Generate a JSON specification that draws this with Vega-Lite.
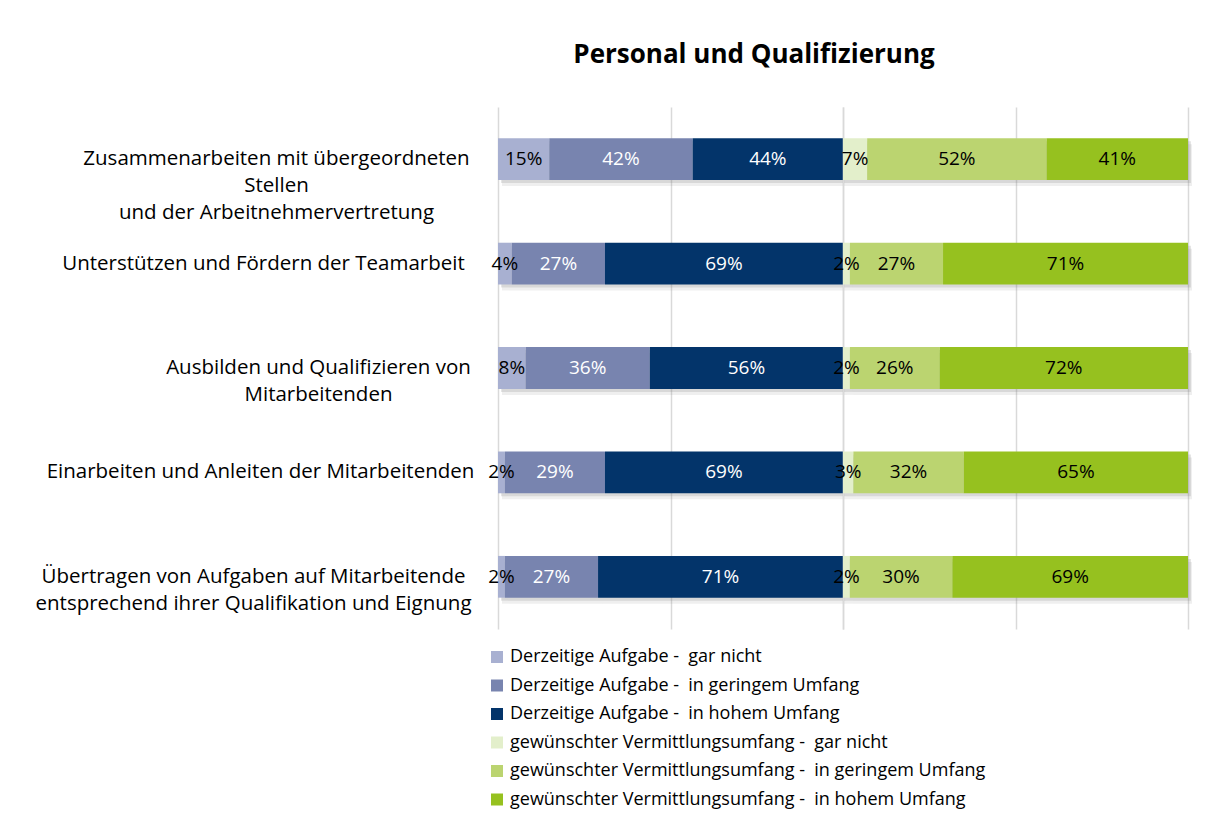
{
  "$schema": "https://vega.github.io/schema/vega-lite/v6.json",
  "padding": {"left": 0, "top": 42, "right": 0, "bottom": 0},
  "background": "white",
  "bounds": "flush",
  "title": {"text": "Personal und Qualifizierung", "fontSize": 26, "font": "Open Sans", "fontWeight": "bold", "color": "#000000", "anchor": "middle", "dx": 158, "offset": 39},
  "data": {"values": [
    {"item": "Zusammenarbeiten mit übergeordneten|Stellen|und der Arbeitnehmervertretung", "side": "D", "k": 0, "series": "Derzeitige Aufgabe -\u00a0 gar nicht", "value": 0.15},
    {"item": "Zusammenarbeiten mit übergeordneten|Stellen|und der Arbeitnehmervertretung", "side": "D", "k": 1, "series": "Derzeitige Aufgabe -\u00a0 in geringem Umfang", "value": 0.42},
    {"item": "Zusammenarbeiten mit übergeordneten|Stellen|und der Arbeitnehmervertretung", "side": "D", "k": 2, "series": "Derzeitige Aufgabe -\u00a0 in hohem Umfang", "value": 0.44},
    {"item": "Zusammenarbeiten mit übergeordneten|Stellen|und der Arbeitnehmervertretung", "side": "G", "k": 3, "series": "gewünschter Vermittlungsumfang -\u00a0 gar nicht", "value": 0.07},
    {"item": "Zusammenarbeiten mit übergeordneten|Stellen|und der Arbeitnehmervertretung", "side": "G", "k": 4, "series": "gewünschter Vermittlungsumfang -\u00a0 in geringem Umfang", "value": 0.52},
    {"item": "Zusammenarbeiten mit übergeordneten|Stellen|und der Arbeitnehmervertretung", "side": "G", "k": 5, "series": "gewünschter Vermittlungsumfang -\u00a0 in hohem Umfang", "value": 0.41},
    {"item": "Unterstützen und Fördern der Teamarbeit", "side": "D", "k": 0, "series": "Derzeitige Aufgabe -\u00a0 gar nicht", "value": 0.04},
    {"item": "Unterstützen und Fördern der Teamarbeit", "side": "D", "k": 1, "series": "Derzeitige Aufgabe -\u00a0 in geringem Umfang", "value": 0.27},
    {"item": "Unterstützen und Fördern der Teamarbeit", "side": "D", "k": 2, "series": "Derzeitige Aufgabe -\u00a0 in hohem Umfang", "value": 0.69},
    {"item": "Unterstützen und Fördern der Teamarbeit", "side": "G", "k": 3, "series": "gewünschter Vermittlungsumfang -\u00a0 gar nicht", "value": 0.02},
    {"item": "Unterstützen und Fördern der Teamarbeit", "side": "G", "k": 4, "series": "gewünschter Vermittlungsumfang -\u00a0 in geringem Umfang", "value": 0.27},
    {"item": "Unterstützen und Fördern der Teamarbeit", "side": "G", "k": 5, "series": "gewünschter Vermittlungsumfang -\u00a0 in hohem Umfang", "value": 0.71},
    {"item": "Ausbilden und Qualifizieren von|Mitarbeitenden", "side": "D", "k": 0, "series": "Derzeitige Aufgabe -\u00a0 gar nicht", "value": 0.08},
    {"item": "Ausbilden und Qualifizieren von|Mitarbeitenden", "side": "D", "k": 1, "series": "Derzeitige Aufgabe -\u00a0 in geringem Umfang", "value": 0.36},
    {"item": "Ausbilden und Qualifizieren von|Mitarbeitenden", "side": "D", "k": 2, "series": "Derzeitige Aufgabe -\u00a0 in hohem Umfang", "value": 0.56},
    {"item": "Ausbilden und Qualifizieren von|Mitarbeitenden", "side": "G", "k": 3, "series": "gewünschter Vermittlungsumfang -\u00a0 gar nicht", "value": 0.02},
    {"item": "Ausbilden und Qualifizieren von|Mitarbeitenden", "side": "G", "k": 4, "series": "gewünschter Vermittlungsumfang -\u00a0 in geringem Umfang", "value": 0.26},
    {"item": "Ausbilden und Qualifizieren von|Mitarbeitenden", "side": "G", "k": 5, "series": "gewünschter Vermittlungsumfang -\u00a0 in hohem Umfang", "value": 0.72},
    {"item": "Einarbeiten und Anleiten der Mitarbeitenden", "side": "D", "k": 0, "series": "Derzeitige Aufgabe -\u00a0 gar nicht", "value": 0.02},
    {"item": "Einarbeiten und Anleiten der Mitarbeitenden", "side": "D", "k": 1, "series": "Derzeitige Aufgabe -\u00a0 in geringem Umfang", "value": 0.29},
    {"item": "Einarbeiten und Anleiten der Mitarbeitenden", "side": "D", "k": 2, "series": "Derzeitige Aufgabe -\u00a0 in hohem Umfang", "value": 0.69},
    {"item": "Einarbeiten und Anleiten der Mitarbeitenden", "side": "G", "k": 3, "series": "gewünschter Vermittlungsumfang -\u00a0 gar nicht", "value": 0.03},
    {"item": "Einarbeiten und Anleiten der Mitarbeitenden", "side": "G", "k": 4, "series": "gewünschter Vermittlungsumfang -\u00a0 in geringem Umfang", "value": 0.32},
    {"item": "Einarbeiten und Anleiten der Mitarbeitenden", "side": "G", "k": 5, "series": "gewünschter Vermittlungsumfang -\u00a0 in hohem Umfang", "value": 0.65},
    {"item": "Übertragen von Aufgaben auf Mitarbeitende|entsprechend ihrer Qualifikation und Eignung", "side": "D", "k": 0, "series": "Derzeitige Aufgabe -\u00a0 gar nicht", "value": 0.02},
    {"item": "Übertragen von Aufgaben auf Mitarbeitende|entsprechend ihrer Qualifikation und Eignung", "side": "D", "k": 1, "series": "Derzeitige Aufgabe -\u00a0 in geringem Umfang", "value": 0.27},
    {"item": "Übertragen von Aufgaben auf Mitarbeitende|entsprechend ihrer Qualifikation und Eignung", "side": "D", "k": 2, "series": "Derzeitige Aufgabe -\u00a0 in hohem Umfang", "value": 0.71},
    {"item": "Übertragen von Aufgaben auf Mitarbeitende|entsprechend ihrer Qualifikation und Eignung", "side": "G", "k": 3, "series": "gewünschter Vermittlungsumfang -\u00a0 gar nicht", "value": 0.02},
    {"item": "Übertragen von Aufgaben auf Mitarbeitende|entsprechend ihrer Qualifikation und Eignung", "side": "G", "k": 4, "series": "gewünschter Vermittlungsumfang -\u00a0 in geringem Umfang", "value": 0.30},
    {"item": "Übertragen von Aufgaben auf Mitarbeitende|entsprechend ihrer Qualifikation und Eignung", "side": "G", "k": 5, "series": "gewünschter Vermittlungsumfang -\u00a0 in hohem Umfang", "value": 0.69}
  ]},
  "spacing": 0,
  "hconcat": [
    {
      "width": 345,
      "height": 522,
      "transform": [{"filter": "datum.side == 'D'"}],
      "encoding": {
        "y": {"field": "item", "type": "nominal", "sort": null, "title": null,
          "scale": {"paddingInner": 0.6, "paddingOuter": 0.3},
          "axis": {"domain": false, "ticks": false, "labelAlign": "center", "labelBaseline": "middle",
            "labelPadding": {"expr": "indexof(datum.value,'Zusammen')==0 ? 222 : indexof(datum.value,'Unterst')==0 ? 235 : indexof(datum.value,'Ausbilden')==0 ? 180 : indexof(datum.value,'Einarbeiten')==0 ? 238 : 245"},
            "labelFont": "Open Sans", "labelFontSize": 20.5, "labelColor": "#000000", "labelLineHeight": 27, "labelLimit": 0, "labelExpr": "split(datum.value, '|')", "minExtent": 498, "maxExtent": 498}}
      },
      "layer": [
        {
          "mark": {"type": "bar", "color": "#7F7F7F", "opacity": 0.12, "xOffset": 4, "yOffset": 6},
          "encoding": {
            "x": {"field": "value", "type": "quantitative", "stack": "normalize"},
            "detail": {"field": "series"},
            "order": {"field": "k", "type": "quantitative"}
          }
        },
        {
          "mark": {"type": "bar", "color": "#7F7F7F", "opacity": 0.2, "xOffset": 3, "yOffset": 3},
          "encoding": {
            "x": {"field": "value", "type": "quantitative", "stack": "normalize"},
            "detail": {"field": "series"},
            "order": {"field": "k", "type": "quantitative"}
          }
        },
        {
          "mark": {"type": "bar"},
          "encoding": {
            "x": {"field": "value", "type": "quantitative", "stack": "normalize", "title": null,
              "scale": {"domain": [0, 1], "nice": false},
              "axis": {"values": [0, 0.5, 1], "labels": false, "ticks": false, "domain": false, "grid": true, "gridColor": "#D9D9D9", "gridWidth": 1.5}},
            "color": {"field": "series", "type": "nominal", "title": null,
              "scale": {"domain": ["Derzeitige Aufgabe -\u00a0 gar nicht", "Derzeitige Aufgabe -\u00a0 in geringem Umfang", "Derzeitige Aufgabe -\u00a0 in hohem Umfang", "gewünschter Vermittlungsumfang -\u00a0 gar nicht", "gewünschter Vermittlungsumfang -\u00a0 in geringem Umfang", "gewünschter Vermittlungsumfang -\u00a0 in hohem Umfang"],
                "range": ["#A8B0D1", "#7884AF", "#03346A", "#E3EFCB", "#BBD470", "#96C11F"]},
              "legend": {"orient": "none", "legendX": -10, "legendY": 541, "direction": "vertical", "symbolType": "square", "symbolSize": 144, "symbolStrokeWidth": 0, "labelFont": "Open Sans", "labelFontSize": 18, "labelColor": "#000000", "rowPadding": 10.5, "labelOffset": 4, "labelLimit": 0}},
            "order": {"field": "k", "type": "quantitative"}
          }
        },
        {
          "mark": {"type": "text", "font": "Open Sans", "fontSize": 19, "baseline": "middle", "align": "center"},
          "encoding": {
            "x": {"field": "value", "type": "quantitative", "stack": "normalize", "bandPosition": 0.5},
            "detail": {"field": "series"},
            "order": {"field": "k", "type": "quantitative"},
            "text": {"field": "value", "type": "quantitative", "format": ".0%"},
            "color": {"condition": {"test": "datum.k == 1 || datum.k == 2", "value": "#FFFFFF"}, "value": "#000000"}
          }
        }
      ]
    },
    {
      "width": 345,
      "height": 522,
      "transform": [{"filter": "datum.side == 'G'"}],
      "encoding": {
        "y": {"field": "item", "type": "nominal", "sort": null, "title": null,
          "scale": {"paddingInner": 0.6, "paddingOuter": 0.3}, "axis": null}
      },
      "layer": [
        {
          "mark": {"type": "bar", "color": "#7F7F7F", "opacity": 0.12, "xOffset": 4, "yOffset": 6},
          "encoding": {
            "x": {"field": "value", "type": "quantitative", "stack": "normalize"},
            "detail": {"field": "series"},
            "order": {"field": "k", "type": "quantitative"}
          }
        },
        {
          "mark": {"type": "bar", "color": "#7F7F7F", "opacity": 0.2, "xOffset": 3, "yOffset": 3},
          "encoding": {
            "x": {"field": "value", "type": "quantitative", "stack": "normalize"},
            "detail": {"field": "series"},
            "order": {"field": "k", "type": "quantitative"}
          }
        },
        {
          "mark": {"type": "bar"},
          "encoding": {
            "x": {"field": "value", "type": "quantitative", "stack": "normalize", "title": null,
              "scale": {"domain": [0, 1], "nice": false},
              "axis": {"values": [0, 0.5, 1], "labels": false, "ticks": false, "domain": false, "grid": true, "gridColor": "#D9D9D9", "gridWidth": 1.5}},
            "color": {"field": "series", "type": "nominal"},
            "order": {"field": "k", "type": "quantitative"}
          }
        },
        {
          "mark": {"type": "text", "font": "Open Sans", "fontSize": 19, "baseline": "middle", "align": "center"},
          "encoding": {
            "x": {"field": "value", "type": "quantitative", "stack": "normalize", "bandPosition": 0.5},
            "detail": {"field": "series"},
            "order": {"field": "k", "type": "quantitative"},
            "text": {"field": "value", "type": "quantitative", "format": ".0%"},
            "color": {"value": "#000000"}
          }
        }
      ]
    }
  ],
  "config": {"view": {"stroke": null}, "font": "Open Sans"}
}
